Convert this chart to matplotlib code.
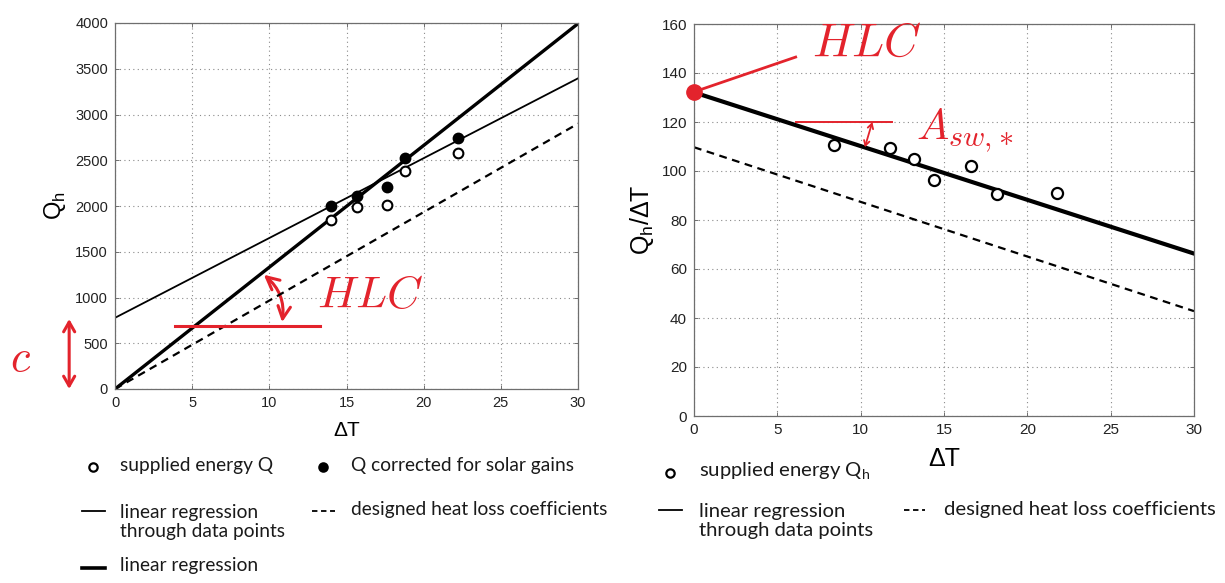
import numpy as np
import matplotlib
matplotlib.use("Agg")
import matplotlib.pyplot as plt
from matplotlib.lines import Line2D
from matplotlib.patches import FancyArrowPatch

# left panel: Q_h against dT
dt_left = [14.0, 15.7, 17.6, 18.8, 22.2]
q_supplied = [1845, 1985, 2015, 2385, 2575]
q_corrected = [1998, 2110, 2205, 2520, 2740]
x_line = [0, 30]
q_reg_points = [778, 3395]      # thin regression through data points
q_reg = [0, 3993]               # thick linear regression through origin
q_design = [0, 2900]            # designed heat loss coefficient

# right panel: Q_h/dT against dT
dt_right = [8.4, 11.75, 13.2, 14.4, 16.6, 18.2, 21.8]
qdt_supplied = [110.5, 109.2, 104.8, 96.4, 102.2, 90.7, 91.1]
qdt_reg = [132.1, 66.3]
qdt_design = [109.7, 42.8]

# annotation positions (data units)
hlc_base_x, hlc_base_y = [3.9, 13.3], 690
hlc_arc = [(9.5, 1268), (10.8, 700)]
c_arrow_y = [0, 765]
hlc_r_pointer = [(0, 132.3), (6.1, 146.5)]
asw_base_x, asw_base_y = [6.1, 11.9], 120
asw_arrow = [(10.7, 120), (10.25, 109.7)]

RED = "#e3232c"
GRID = dict(color="#8a8a8a", linestyle=(0, (1, 3)), linewidth=0.8)
SANS = ["Liberation Sans", "DejaVu Sans"]
LEG = ["Lato", "DejaVu Sans"]

fig = plt.figure(figsize=(12.25, 5.83), dpi=100)
W, H = 1225.0, 583.0


def fx(px):
    return px / W


def fy(py):
    return 1 - py / H


def style_axes(ax, fs):
    ax.grid(True, **GRID)
    ax.set_axisbelow(True)
    for s in ax.spines.values():
        s.set_color("#6e6e6e")
        s.set_linewidth(0.9)
    ax.tick_params(direction="in", length=3, width=0.7, color="#6e6e6e",
                   top=True, right=True, labelsize=fs, pad=5)
    for lab in ax.get_xticklabels() + ax.get_yticklabels():
        lab.set_family(SANS)
        lab.set_color("#222222")


# ---------------- left panel ----------------
ax1 = fig.add_axes([fx(115), fy(389), fx(463), 366 / H])
ax1.plot(x_line, q_reg_points, color="black", lw=1.3)
ax1.plot(x_line, q_reg, color="black", lw=2.4)
ax1.plot(x_line, q_design, color="black", lw=1.6, linestyle=(0, (3.5, 2.5)))
ax1.plot(dt_left, q_supplied, "o", ms=7, mfc="white", mec="black", mew=1.5)
ax1.plot(dt_left, q_corrected, "o", ms=7, mfc="black", mec="black", mew=1.5)
ax1.set_xlim(0, 30)
ax1.set_ylim(0, 4000)
ax1.set_xticks(np.arange(0, 31, 5))
ax1.set_yticks(np.arange(0, 4001, 500))
style_axes(ax1, 10.5)
ax1.set_xlabel("\u0394T", family=SANS, fontsize=15, labelpad=8)
ax1.set_ylabel("Q$_\\mathregular{h}$", family=SANS, fontsize=17, labelpad=5)

ax1.plot(hlc_base_x, [hlc_base_y] * 2, color=RED, lw=2.2)
ax1.add_patch(FancyArrowPatch(hlc_arc[0], hlc_arc[1], arrowstyle="<->,head_length=6,head_width=3",
                              connectionstyle="arc3,rad=-0.3", color=RED, lw=2.2,
                              mutation_scale=1.5))
ax1.text(13.1, 890, "$HLC$", color=RED, fontsize=33, math_fontfamily="cm",
         ha="left", va="baseline")
ytr = ax1.get_yaxis_transform()
ax1.annotate("", xy=(-0.099, c_arrow_y[0]), xytext=(-0.099, c_arrow_y[1]),
             xycoords=ytr, textcoords=ytr, annotation_clip=False,
             arrowprops=dict(arrowstyle="<->,head_length=0.7,head_width=0.4",
                             color=RED, lw=2.2, shrinkA=0, shrinkB=0))
ax1.text(-0.205, 330, "$c$", transform=ytr, color=RED, fontsize=32,
         math_fontfamily="cm", ha="center", va="center")

# ---------------- right panel ----------------
ax2 = fig.add_axes([fx(694), fy(416), fx(500), 392 / H])
ax2.plot(x_line, qdt_reg, color="black", lw=3.0)
ax2.plot(x_line, qdt_design, color="black", lw=1.6, linestyle=(0, (3.5, 2.5)))
ax2.plot(dt_right, qdt_supplied, "o", ms=8, mfc="white", mec="black", mew=1.6)
ax2.set_xlim(0, 30)
ax2.set_ylim(0, 160)
ax2.set_xticks(np.arange(0, 31, 5))
ax2.set_yticks(np.arange(0, 161, 20))
style_axes(ax2, 11)
ax2.set_xlabel("\u0394T", family=SANS, fontsize=18, labelpad=7)
ax2.set_ylabel("Q$_\\mathregular{h}$/\u0394T", family=SANS, fontsize=18, labelpad=4)

ax2.plot(*zip(*hlc_r_pointer), color=RED, lw=2.0, clip_on=False)
ax2.plot([hlc_r_pointer[0][0]], [hlc_r_pointer[0][1]], "o", color=RED, ms=11,
         clip_on=False, zorder=5)
ax2.text(7.1, 147, "$HLC$", color=RED, fontsize=34, math_fontfamily="cm",
         ha="left", va="baseline")
ax2.plot(asw_base_x, [asw_base_y] * 2, color=RED, lw=1.4)
ax2.annotate("", xy=asw_arrow[1], xytext=asw_arrow[0],
             arrowprops=dict(arrowstyle="<->,head_length=0.35,head_width=0.2",
                             color=RED, lw=1.3, shrinkA=0, shrinkB=0))
ax2.text(13.3, 113.0, "$A_{sw,\\!*}$", color=RED, fontsize=31, math_fontfamily="cm",
         ha="left", va="baseline")


# ---------------- legends below the panels ----------------
def marker_entry(x, y, filled):
    fig.add_artist(Line2D([fx(x)], [fy(y)], transform=fig.transFigure, marker="o",
                          ms=6, mew=1.6, mec="black",
                          mfc="black" if filled else "white", linestyle="none"))


def line_entry(x0, x1, y, lw, ls="-"):
    fig.add_artist(Line2D([fx(x0), fx(x1)], [fy(y), fy(y)], transform=fig.transFigure,
                          color="black", lw=lw, linestyle=ls))


def label(x, y, s, fs):
    fig.text(fx(x), fy(y), s, family=LEG, fontsize=fs, ha="left", va="center",
             color="#1a1a1a", linespacing=1.15)


marker_entry(93, 467, False)
label(120, 465, "supplied energy Q", 13.8)
marker_entry(323, 467, True)
label(351, 465, "Q corrected for solar gains", 13.8)
line_entry(82, 105, 511, 1.3)
label(120, 522, "linear regression\nthrough data points", 13.8)
line_entry(312, 335, 511, 1.3, (0, (3, 2)))
label(351, 510, "designed heat loss coefficients", 13.8)
line_entry(82, 105, 568, 2.6)
label(120, 566, "linear regression", 13.8)

marker_entry(670, 473, False)
label(699, 471, "supplied energy Q$_\\mathregular{h}$", 14.6)
line_entry(659, 682, 510, 1.3)
label(699, 521, "linear regression\nthrough data points", 14.6)
line_entry(904, 925, 510, 1.3, (0, (3, 2)))
label(944, 509, "designed heat loss coefficients", 14.6)

fig.savefig("out.png", dpi=100, facecolor="white")
